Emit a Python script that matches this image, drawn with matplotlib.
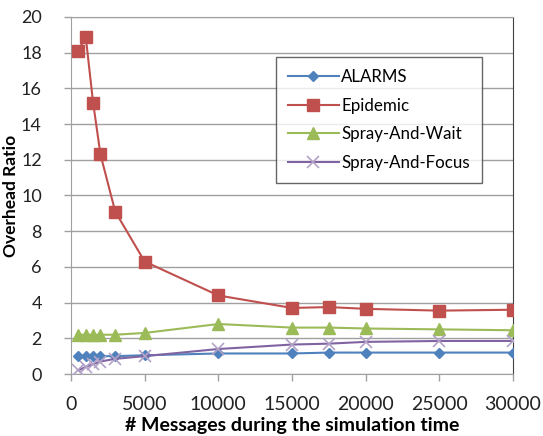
import matplotlib
matplotlib.use("Agg")
import matplotlib.pyplot as plt

x_msgs = [500, 1000, 1500, 2000, 3000, 5000, 10000, 15000, 17500, 20000, 25000, 30000]
alarms = [1.0, 1.0, 1.0, 1.0, 1.0, 1.05, 1.15, 1.15, 1.2, 1.2, 1.2, 1.2]
epidemic = [18.1, 18.9, 15.2, 12.3, 9.1, 6.3, 4.4, 3.7, 3.75, 3.65, 3.55, 3.6]
spray_wait = [2.2, 2.2, 2.2, 2.2, 2.2, 2.3, 2.8, 2.6, 2.6, 2.55, 2.5, 2.45]
spray_focus = [0.2, 0.4, 0.55, 0.7, 0.85, 1.0, 1.4, 1.65, 1.7, 1.8, 1.85, 1.85]

x_ticks = [0, 5000, 10000, 15000, 20000, 25000, 30000]
y_ticks = [0, 2, 4, 6, 8, 10, 12, 14, 16, 18, 20]

plt.rcParams['font.family'] = ['Lato', 'DejaVu Sans']

W, H = 543, 436
fig = plt.figure(figsize=(W / 100, H / 100), dpi=100)
l, r, t, b = 71, 513, 17, 374
ax = fig.add_axes([l / W, 1 - b / H, (r - l) / W, (b - t) / H])

ax.plot(x_msgs, alarms, color='#4F81BD', marker='D', markersize=5.5, lw=1.5, label='ALARMS', zorder=3)
ax.plot(x_msgs, epidemic, color='#C0504D', marker='s', markersize=8, lw=1.5, label='Epidemic', zorder=3)
ax.plot(x_msgs, spray_wait, color='#9BBB59', marker='^', markersize=8, lw=1.5, label='Spray-And-Wait', zorder=3)
ax.plot(x_msgs, spray_focus, color='#8064A2', marker='x', markersize=8, mec='#B3A2C7', mew=1.2, lw=1.5,
        label='Spray-And-Focus', zorder=3)

ax.set_xlim(0, 30000)
ax.set_ylim(0, 20)
ax.set_xticks(x_ticks)
ax.set_yticks(y_ticks)
ax.set_xticklabels([str(v) for v in x_ticks])
ax.set_yticklabels([str(v) for v in y_ticks])
ax.yaxis.grid(True, color='#A0A0A0', lw=1)
ax.set_axisbelow(True)
for s in ['left', 'bottom']:
    ax.spines[s].set_color('#A0A0A0')
ax.spines['top'].set_color('#A0A0A0')
ax.spines['right'].set_color('#404040')
ax.tick_params(axis='both', colors='#A0A0A0', labelcolor='#222222', labelsize=14, length=5, width=1)
ax.tick_params(axis='x', pad=11)
ax.tick_params(axis='y', labelsize=13, pad=16)
ax.set_ylabel('Overhead Ratio', fontsize=12.5, fontweight='bold')
ax.yaxis.set_label_coords(-(l - 11) / (r - l), 0.5)
ax.set_xlabel('# Messages during the simulation time', fontsize=14, fontweight='bold')
ax.xaxis.set_label_coords(0.5, -(425 - b) / (b - t))
ax.xaxis.label.set_va('center')
ax.yaxis.label.set_va('center')

leg = ax.legend(loc='upper left', bbox_to_anchor=((276 - l) / (r - l), 1 - (57 - t) / (b - t)),
                fontsize=12.2, frameon=True, fancybox=False, borderpad=0.7, labelspacing=0.75,
                handlelength=3.0, handletextpad=0.15, borderaxespad=0)
leg.get_frame().set_edgecolor('#404040')
leg.get_frame().set_linewidth(1)

fig.savefig('out.png', dpi=100)
